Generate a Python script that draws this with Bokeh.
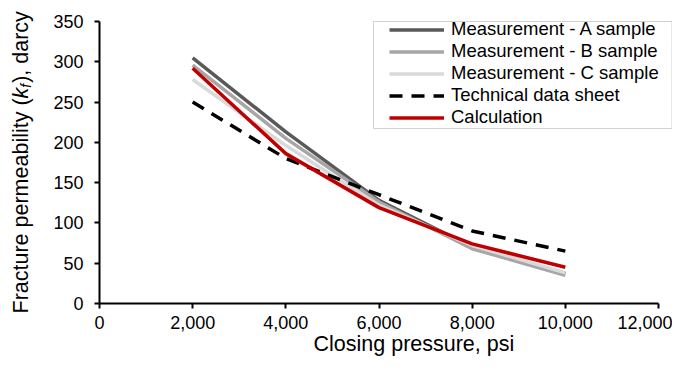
import math
from bokeh.plotting import figure
from bokeh.models import (Range1d, Legend, LegendItem, Label, BoxAnnotation,
                          NumeralTickFormatter, FixedTicker)
from bokeh.embed import file_html
from bokeh.resources import INLINE

# ---- data ----
pressure = [2000, 4000, 6000, 8000, 10000]
sample_a = [305, 213, 128, 70, 37]
sample_b = [296, 205, 126, 68, 35]
sample_c = [278, 196, 122, 72, 38]
tech_sheet = [250, 180, 135, 90, 65]
calculation = [292, 186, 119, 74, 45]

x_ticks = [0, 2000, 4000, 6000, 8000, 10000, 12000]
y_ticks = [0, 50, 100, 150, 200, 250, 300, 350]
x_axis_max = 12000
y_axis_max = 350

FONT = "Liberation Sans"

W, H = 672, 356
# plot area (pixels in canvas): x 0..12000 -> 99..658, y 0..350 -> 303..21
PX0, PX1, PY0, PY1 = 99.0, 658.0, 303.0, 21.0
sx = (PX1 - PX0) / x_axis_max
sy = (PY0 - PY1) / y_axis_max
x_start = -PX0 / sx
x_end = (W - PX0) / sx
y_end = PY0 / sy
y_start = -(H - PY0) / sy

p = figure(width=W, height=H, output_backend="svg", toolbar_location=None,
           x_range=Range1d(x_start, x_end), y_range=Range1d(y_start, y_end))
p.min_border = 0
p.min_border_left = 0
p.min_border_right = 0
p.min_border_top = 0
p.min_border_bottom = 0
p.outline_line_color = None
p.grid.visible = False
p.background_fill_color = "white"
p.border_fill_color = "white"

for ax in (p.xaxis[0], p.yaxis[0]):
    ax.fixed_location = 0
    ax.axis_line_color = "black"
    ax.axis_line_width = 2
    ax.major_tick_line_color = "black"
    ax.major_tick_line_width = 2
    ax.major_tick_out = 5
    ax.major_tick_in = 0
    ax.minor_tick_line_color = None
    ax.major_label_text_font = FONT
    ax.major_label_text_font_size = "18px"
    ax.major_label_text_color = "black"

p.xaxis.bounds = (0, x_axis_max)
p.yaxis.bounds = (0, y_axis_max)
p.xaxis.ticker = FixedTicker(ticks=x_ticks)
p.yaxis.ticker = FixedTicker(ticks=y_ticks)
p.xaxis.formatter = NumeralTickFormatter(format="0,0")
p.xaxis.major_label_standoff = 7
p.yaxis.major_label_standoff = 11

lw = 3.5
ra = p.line(pressure, sample_a, line_color="#595959", line_width=lw)
rb = p.line(pressure, sample_b, line_color="#a6a6a6", line_width=lw)
rc = p.line(pressure, sample_c, line_color="#d9d9d9", line_width=lw)
rt = p.line(pressure, tech_sheet, line_color="black", line_width=lw, line_dash="13 9")
rk = p.line(pressure, calculation, line_color="#c00000", line_width=lw)

legend = Legend(items=[
    LegendItem(label="Measurement - A sample", renderers=[ra]),
    LegendItem(label="Measurement - B sample", renderers=[rb]),
    LegendItem(label="Measurement - C sample", renderers=[rc]),
    LegendItem(label="Technical data sheet", renderers=[rt]),
    LegendItem(label="Calculation", renderers=[rk]),
], location=(389, 228))
legend.border_line_color = None
legend.background_fill_alpha = 0
legend.padding = 1
legend.margin = 0
legend.spacing = 0
legend.label_height = 21
legend.glyph_height = 21
legend.glyph_width = 55
legend.label_standoff = 7
legend.label_text_font = FONT
legend.label_text_font_size = "18.5px"
legend.label_text_color = "black"
legend.label_text_baseline = "middle"
p.add_layout(legend, "center")

box = BoxAnnotation(left=373, right=671.5, top=335, bottom=228,
                    left_units="screen", right_units="screen",
                    top_units="screen", bottom_units="screen",
                    fill_alpha=0, line_color="#6e6e6e", line_width=1)
p.add_layout(box)

# y axis title with italic k subscript f
S = 21.5
y0 = 43
xc = 20
l1 = 10.002 * S
fs = 14
common = dict(x_units="screen", y_units="screen", angle=math.pi / 2, text_font=FONT,
              text_align="left", text_baseline="middle", text_color="black")
p.add_layout(Label(x=xc, y=y0, text="Fracture permeability (", text_font_size=f"{S}px", **common))
p.add_layout(Label(x=xc, y=y0 + l1, text="k", text_font_size=f"{S}px",
                   text_font_style="italic", **common))
p.add_layout(Label(x=xc + 5, y=y0 + l1 + 0.5 * S, text="f", text_font_size=f"{fs}px",
                   text_font_style="italic", **common))
p.add_layout(Label(x=xc, y=y0 + l1 + 0.5 * S + 0.278 * fs + 1, text="), darcy",
                   text_font_size=f"{S}px", **common))

# x axis title
p.add_layout(Label(x=313, y=13, x_units="screen", y_units="screen",
                   text="Closing pressure, psi", text_font=FONT, text_font_size=f"{S}px",
                   text_align="left", text_baseline="alphabetic", text_color="black"))

open("out.html", "w").write(file_html(p, INLINE))
